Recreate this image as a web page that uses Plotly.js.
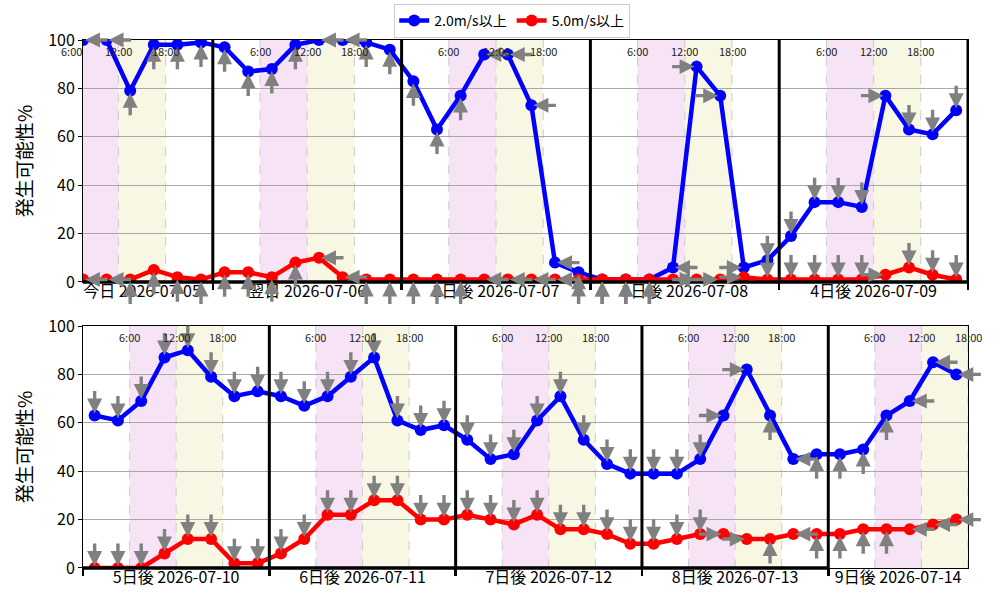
<!DOCTYPE html>
<html><head><meta charset="utf-8">
<script src="https://cdn.plot.ly/plotly-3.0.1.min.js"></script>
<style>html,body{margin:0;padding:0;background:#fff}#chart{width:1000px;height:600px}</style>
</head><body><div id="chart"></div>
<script>
// ---- data ----
const slotTimes = ['01:30','04:30','07:30','10:30','13:30','16:30','19:30','22:30'];
const bandTimes = ['06:00','12:00','18:00'];
const topDays = ['2026-07-05','2026-07-06','2026-07-07','2026-07-08','2026-07-09'];
const bottomDays = ['2026-07-10','2026-07-11','2026-07-12','2026-07-13','2026-07-14'];
const topDayLabels = ['今日 2026-07-05','翌日 2026-07-06','2日後 2026-07-07','3日後 2026-07-08','4日後 2026-07-09'];
const bottomDayLabels = ['5日後 2026-07-10','6日後 2026-07-11','7日後 2026-07-12','8日後 2026-07-13','9日後 2026-07-14'];
const seriesNames = ['2.0m/s以上','5.0m/s以上'];

const topWeak = [
  [null,null,100,100,79,98,98,99],
  [97,87,88,98,100,100,99,96],
  [83,63,77,94,94,73,8,4],
  [1,1,1,6,89,77,6,9],
  [19,33,33,31,77,63,61,71]
];
const topStrong = [
  [null,null,1,1,1,5,2,1],
  [4,4,2,8,10,2,1,1],
  [1,1,1,1,1,1,1,1],
  [1,1,1,1,1,1,2,1],
  [1,1,1,1,3,6,3,1]
];
const topDir = [
  [null,null,'L','L','U','U','U','U'],
  ['U','U','U','U','L','L','U','U'],
  ['U','U','U','L','L','L','L','U'],
  ['U','U','U','L','R','R','R','D'],
  ['D','D','D','D','R','D','D','D']
];
const bottomWeak = [
  [63,61,69,87,90,79,71,73],
  [71,67,71,79,87,61,57,59],
  [53,45,47,61,71,53,43,39],
  [39,39,45,63,82,63,45,47],
  [47,49,63,69,85,80,null,null]
];
const bottomStrong = [
  [0,0,0,6,12,12,2,2],
  [6,12,22,22,28,28,20,20],
  [22,20,18,22,16,16,14,10],
  [10,12,14,14,12,12,14,14],
  [14,16,16,16,18,20,null,null]
];
const bottomDir = [
  ['D','D','D','D','D','D','D','D'],
  ['D','D','D','D','D','D','D','D'],
  ['D','D','D','D','D','D','D','D'],
  ['D','D','D','R','R','U','L','U'],
  ['U','U','U','L','L','L',null,null]
];

// ---- helpers ----
const toMs = s => Date.parse(s.replace(' ', 'T') + ':00Z');
const toStr = ms => new Date(ms).toISOString().slice(0,16).replace('T',' ');
const DAY = 86400000;
const FONT = '"Noto Sans CJK JP", "DejaVu Sans", sans-serif';
const colors = ['#0000ff', '#ff0000'];
const arrowOffset = {U:[0,25], D:[0,-25], L:[25,0], R:[-25,0]};

const traces = [];
const shapes = [];
const annotations = [];
const layout = {
  width: 1000, height: 600,
  margin: {l: 83, r: 32, t: 40, b: 32, autoexpand: false},
  paper_bgcolor: '#fff', plot_bgcolor: 'rgba(0,0,0,0)',
  font: {family: FONT, color: '#000'},
  showlegend: true,
  legend: {orientation: 'h', x: 0.485, xanchor: 'center', y: 1.036, yanchor: 'middle',
           bordercolor: '#cccccc', borderwidth: 1, font: {size: 14, family: FONT},
           itemwidth: 30, bgcolor: '#fff'}
};

function panel(days, dayLabels, weak, strong, dirs, xa, ya, range, domain, showLegend) {
  const r0 = toMs(range[0]), r1 = toMs(range[1]);
  const xs = [], w = [], s = [], d = [];
  const tickvals = [];
  days.forEach((day, i) => {
    const dx = [];
    slotTimes.forEach((t, j) => {
      if (weak[i][j] === null) return;
      const x = day + ' ' + t;
      xs.push(x); w.push(weak[i][j]); s.push(strong[i][j]); d.push(dirs[i][j]);
      dx.push(toMs(x));
    });
    tickvals.push(toStr((dx[0] + dx[dx.length - 1]) / 2));
  });
  [w, s].forEach((vals, k) => {
    traces.push({
      x: xs, y: vals, type: 'scatter', mode: 'lines+markers',
      name: seriesNames[k], legendgroup: seriesNames[k], showlegend: showLegend,
      line: {color: colors[k], width: 4.5},
      marker: {color: colors[k], size: 12},
      xaxis: xa, yaxis: ya, hoverinfo: 'skip'
    });
    vals.forEach((v, i) => {
      const off = arrowOffset[d[i]];
      annotations.push({
        x: xs[i], y: v, xref: xa, yref: ya, text: '', showarrow: true,
        font: {size: 1}, borderpad: 0,
        ax: off[0], ay: off[1], arrowcolor: '#808080', arrowwidth: 3.4,
        arrowhead: 2, arrowsize: 0.88, standoff: 2
      });
    });
  });
  const axKey = 'xaxis' + (xa === 'x' ? '' : xa.slice(1));
  const ayKey = 'yaxis' + (ya === 'y' ? '' : ya.slice(1));
  layout[axKey] = {
    type: 'date', range: range, anchor: ya, domain: [0, 1],
    tickmode: 'array', tickvals: tickvals, ticktext: dayLabels, ticks: '', ticklen: 0,
    ticklabelstandoff: -5,
    tickfont: {size: 16, family: FONT, color: '#000'},
    showgrid: false, zeroline: false, showline: true, mirror: true,
    linecolor: '#000', linewidth: 1,
    minor: {tickmode: 'linear', tick0: days[0], dtick: DAY, ticks: 'outside',
            ticklen: 7, tickwidth: 2.5, tickcolor: '#000', showgrid: false}
  };
  layout[ayKey] = {
    range: [0, 100], domain: domain, anchor: xa, tickvals: [0,20,40,60,80,100],
    tickfont: {size: 16, family: FONT, color: '#000'},
    ticks: 'outside', ticklen: 4, tickcolor: '#000',
    showgrid: true, gridcolor: '#a8a8a8', gridwidth: 1, zeroline: false,
    showline: true, mirror: true, linecolor: '#000', linewidth: 1,
    title: {text: '発生可能性%', font: {size: 19, family: FONT, color: '#000'}, standoff: 10}
  };
  // day bands, dashed hour lines, hour labels, day-end lines
  let lastEnd = r0;
  days.forEach((day) => {
    const t6 = day + ' ' + bandTimes[0], t12 = day + ' ' + bandTimes[1], t18 = day + ' ' + bandTimes[2];
    shapes.push({type: 'rect', xref: xa, yref: ya, x0: t6, x1: t12, y0: 0, y1: 100,
                 fillcolor: '#f6e3f6', line: {width: 0}, layer: 'below'});
    shapes.push({type: 'rect', xref: xa, yref: ya, x0: t12, x1: t18, y0: 0, y1: 100,
                 fillcolor: '#f7f7e3', line: {width: 0}, layer: 'below'});
    bandTimes.forEach((bt) => {
      const x = day + ' ' + bt;
      shapes.push({type: 'line', xref: xa, yref: ya, x0: x, x1: x, y0: 0, y1: 100,
                   line: {color: '#cccccc', width: 1, dash: 'dash'}, layer: 'below'});
      const frac = (toMs(x) - r0) / (r1 - r0);
      if (frac > -0.05 && frac <= 1.0001) {
        annotations.push({x: frac, xref: 'paper', xanchor: 'center', y: 100, yref: ya,
                          yanchor: 'top', yshift: -1,
                          text: bt.replace(/^0/, ''), showarrow: false,
                          font: {size: 11, family: FONT, color: '#222'}});
      }
    });
    const end = toMs(day + ' 00:00') + DAY;
    if (end <= r1) {
      lastEnd = end;
      shapes.push({type: 'line', xref: xa, yref: 'paper', x0: toStr(end), x1: toStr(end),
                   y0: domain[0], y1: domain[1], line: {color: '#000', width: 3}, layer: 'above'});
    }
  });
  shapes.push({type: 'line', xref: xa, yref: 'paper', x0: range[0], x1: toStr(lastEnd),
               y0: domain[0], y1: domain[0], line: {color: '#000', width: 3.5}, layer: 'above'});
}

panel(topDays, topDayLabels, topWeak, topStrong, topDir, 'x', 'y',
      ['2026-07-05 07:30', '2026-07-10 00:00'], [0.5417, 1], true);
panel(bottomDays, bottomDayLabels, bottomWeak, bottomStrong, bottomDir, 'x2', 'y2',
      ['2026-07-10 00:00', '2026-07-14 18:00'], [0, 0.4583], false);

layout.shapes = shapes;
layout.annotations = annotations;
Plotly.newPlot('chart', traces, layout, {displayModeBar: false, staticPlot: true});
</script></body></html>
